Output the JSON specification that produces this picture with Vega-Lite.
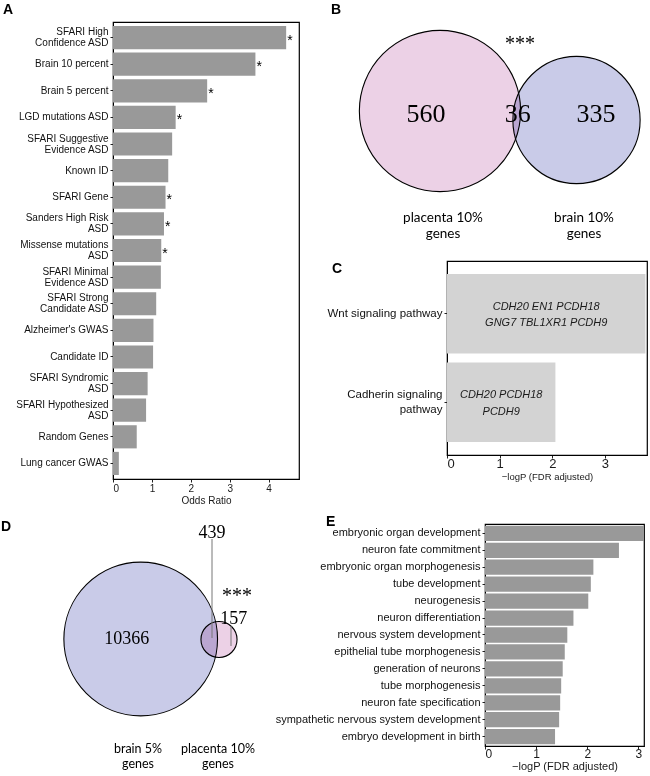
{
  "$schema": "https://vega.github.io/schema/vega-lite/v6.json",
  "padding": {"left": 1, "top": 2, "right": 0, "bottom": 0},
  "background": "white",
  "config": {
    "font": "Liberation Sans",
    "view": {"stroke": "black", "strokeWidth": 1.2},
    "axis": {"grid": false, "domainColor": "black", "tickColor": "#222222", "labelColor": "#1a1a1a", "titleColor": "#1a1a1a", "titleFontWeight": "normal", "tickSize": 3, "labelFont": "Liberation Sans", "titleFont": "Liberation Sans"},
    "title": {"font": "Liberation Sans", "fontWeight": "bold", "fontSize": 14, "anchor": "start", "frame": "group", "color": "black", "offset": 0}
  },
  "bounds": "flush",
  "spacing": 502,
  "resolve": {"scale": {"color": "independent", "size": "independent"}},
  "vconcat": [
    {
      "bounds": "flush",
      "spacing": 148,
      "resolve": {"scale": {"color": "independent", "size": "independent"}},
      "hconcat": [
        {
          "title": {"text": "A", "dx": -110, "dy": -1},
          "width": 186,
          "height": 457,
          "data": {"values": [
            {"gene_set": "SFARI High\nConfidence ASD", "odds_ratio": 4.45, "star": "*"},
            {"gene_set": "Brain 10 percent", "odds_ratio": 3.66, "star": "*"},
            {"gene_set": "Brain 5 percent", "odds_ratio": 2.42, "star": "*"},
            {"gene_set": "LGD mutations ASD", "odds_ratio": 1.61, "star": "*"},
            {"gene_set": "SFARI Suggestive\nEvidence ASD", "odds_ratio": 1.52, "star": ""},
            {"gene_set": "Known ID", "odds_ratio": 1.42, "star": ""},
            {"gene_set": "SFARI Gene", "odds_ratio": 1.35, "star": "*"},
            {"gene_set": "Sanders High Risk\nASD", "odds_ratio": 1.31, "star": "*"},
            {"gene_set": "Missense mutations\nASD", "odds_ratio": 1.24, "star": "*"},
            {"gene_set": "SFARI Minimal\nEvidence ASD", "odds_ratio": 1.23, "star": ""},
            {"gene_set": "SFARI Strong\nCandidate ASD", "odds_ratio": 1.11, "star": ""},
            {"gene_set": "Alzheimer's GWAS", "odds_ratio": 1.04, "star": ""},
            {"gene_set": "Candidate ID", "odds_ratio": 1.03, "star": ""},
            {"gene_set": "SFARI Syndromic\nASD", "odds_ratio": 0.89, "star": ""},
            {"gene_set": "SFARI Hypothesized\nASD", "odds_ratio": 0.85, "star": ""},
            {"gene_set": "Random Genes", "odds_ratio": 0.61, "star": ""},
            {"gene_set": "Lung cancer GWAS", "odds_ratio": 0.15, "star": ""}
          ]},
          "encoding": {
            "y": {"field": "gene_set", "type": "nominal", "sort": null,
                  "scale": {"paddingInner": 0.13, "paddingOuter": 0.15},
                  "axis": {"title": null, "labelFontSize": 10, "labelLineHeight": 11, "labelPadding": 2, "labelColor": "#111111",
                           "labelOffset": {"condition": {"test": "indexof(datum.value, '\\n') >= 0", "value": -5.5}, "value": 0},
                           "labelExpr": "split(datum.label, '\\n')"}},
            "x": {"field": "odds_ratio", "type": "quantitative",
                  "scale": {"domain": [0, 4.78], "nice": false},
                  "axis": {"title": "Odds Ratio", "values": [0, 1, 2, 3, 4], "labelFontSize": 10, "titleFontSize": 10, "labelPadding": 1, "titlePadding": 2}}
          },
          "layer": [
            {"mark": {"type": "bar", "color": "#999999"}},
            {"mark": {"type": "text", "align": "left", "baseline": "middle", "dx": 1, "dy": 3, "fontSize": 14, "color": "black"},
             "encoding": {"text": {"field": "star"}}}
          ]
        },
        {
          "bounds": "flush",
          "spacing": 14,
          "resolve": {"scale": {"color": "independent", "size": "independent"}},
          "vconcat": [
            {
              "title": {"text": "B", "dx": -116, "dy": -1},
              "width": 200,
              "height": 225,
              "view": {"stroke": null},
              "encoding": {
                "x": {"field": "x", "type": "quantitative", "scale": {"domain": [7, 207], "nice": false, "zero": false}, "axis": null},
                "y": {"field": "y", "type": "quantitative", "scale": {"domain": [-136, 89], "nice": false, "zero": false}, "axis": null}
              },
              "layer": [
                {
                  "data": {"values": [
                    {"set": "placenta 10% genes", "count": 596, "x": 0, "y": 0},
                    {"set": "brain 10% genes", "count": 371, "x": 136.5, "y": -9}
                  ]},
                  "mark": {"type": "point", "shape": "circle", "filled": true, "opacity": 1, "stroke": "black", "strokeWidth": 1.1, "blend": "multiply"},
                  "encoding": {
                    "size": {"field": "count", "type": "quantitative", "scale": {"domain": [0, 596], "range": [0, 26016]}, "legend": null},
                    "color": {"field": "set", "type": "nominal", "scale": {"domain": ["placenta 10% genes", "brain 10% genes"], "range": ["#ecd1e6", "#c9cbe8"]}, "legend": null}
                  }
                },
                {
                  "data": {"values": [
                    {"label": "560", "x": -14, "y": -3.3},
                    {"label": "36", "x": 77.7, "y": -3.3},
                    {"label": "335", "x": 156, "y": -3.3}
                  ]},
                  "mark": {"type": "text", "font": "Liberation Serif", "fontSize": 26, "color": "black", "baseline": "middle"},
                  "encoding": {"text": {"field": "label"}}
                },
                {
                  "data": {"values": [{"label": "***", "x": 80, "y": 67}]},
                  "mark": {"type": "text", "font": "Liberation Serif", "fontSize": 20, "color": "black", "baseline": "middle"},
                  "encoding": {"text": {"field": "label"}}
                },
                {
                  "data": {"values": [
                    {"label": "placenta 10%\ngenes", "x": 3, "y": -106.7},
                    {"label": "brain 10%\ngenes", "x": 144, "y": -106.7}
                  ]},
                  "mark": {"type": "text", "font": "Lato", "fontSize": 13.5, "color": "black", "baseline": "middle", "lineBreak": "\n", "lineHeight": 16.6},
                  "encoding": {"text": {"field": "label"}}
                }
              ]
            },
            {
              "title": {"text": "C", "dx": -115, "dy": 19},
              "width": 200,
              "height": 194,
              "data": {"values": [
                {"pathway": "Wnt signaling pathway", "logp": 3.77, "genes": "CDH20 EN1 PCDH18\nGNG7 TBL1XR1 PCDH9"},
                {"pathway": "Cadherin signaling\npathway", "logp": 2.06, "genes": "CDH20 PCDH18\nPCDH9"}
              ]},
              "encoding": {
                "y": {"field": "pathway", "type": "nominal", "sort": null,
                      "scale": {"paddingInner": 0.1, "paddingOuter": 0.147},
                      "axis": {"title": null, "labelFontSize": 11.5, "labelLineHeight": 14.7, "labelPadding": 2, "labelColor": "#111111",
                               "labelOffset": {"condition": {"test": "indexof(datum.value, '\\n') >= 0", "value": -7.3}, "value": 0},
                               "labelExpr": "split(datum.label, '\\n')"}}
              },
              "layer": [
                {
                  "mark": {"type": "bar", "color": "#d3d3d3"},
                  "encoding": {"x": {"field": "logp", "type": "quantitative", "scale": {"domain": [0, 3.8], "nice": false},
                    "axis": {"title": "−logP (FDR adjusted)", "values": [0, 1, 2, 3], "labelFontSize": 13, "titleFontSize": 9.5, "labelPadding": -1, "titlePadding": 1}}}
                },
                {
                  "mark": {"type": "text", "fontStyle": "italic", "fontSize": 11, "color": "#1a1a1a", "baseline": "middle", "dy": -7, "lineBreak": "\n", "lineHeight": 16.5},
                  "encoding": {
                    "x": {"field": "logp", "type": "quantitative", "scale": {"domain": [0, 7.6], "nice": false}, "axis": null},
                    "text": {"field": "genes"}
                  }
                }
              ],
              "resolve": {"scale": {"x": "independent"}, "axis": {"x": "independent"}}
            }
          ]
        }
      ]
    },
    {
      "bounds": "flush",
      "spacing": 222,
      "resolve": {"scale": {"color": "independent", "size": "independent"}},
      "hconcat": [
        {
          "title": {"text": "D", "dx": -112, "dy": 14},
          "width": 150,
          "height": 222,
          "view": {"stroke": null},
          "encoding": {
            "x": {"field": "x", "type": "quantitative", "scale": {"domain": [-27.7, 122.3], "nice": false, "zero": false}, "axis": null},
            "y": {"field": "y", "type": "quantitative", "scale": {"domain": [-107, 115], "nice": false, "zero": false}, "axis": null}
          },
          "layer": [
            {
              "data": {"values": [
                {"set": "brain 5% genes", "count": 10805, "x": 0, "y": 0},
                {"set": "placenta 10% genes", "count": 596, "x": 78.3, "y": -0.5}
              ]},
              "mark": {"type": "point", "shape": "circle", "filled": true, "opacity": 1, "stroke": "black", "strokeWidth": 1.1, "blend": "multiply"},
              "encoding": {
                "size": {"field": "count", "type": "quantitative", "scale": {"domain": [0, 10805], "range": [0, 23615]}, "legend": null},
                "color": {"field": "set", "type": "nominal", "scale": {"domain": ["placenta 10% genes", "brain 5% genes"], "range": ["#ecd1e6", "#c9cbe8"]}, "legend": null}
              }
            },
            {
              "data": {"values": [
                {"x": 71.3, "y": 100, "y2": 1},
                {"x": 90.3, "y": 13, "y2": -7}
              ]},
              "mark": {"type": "rule", "color": "#777777", "strokeWidth": 1},
              "encoding": {"y2": {"field": "y2"}}
            },
            {
              "data": {"values": [
                {"label": "10366", "x": -14, "y": 0},
                {"label": "439", "x": 71.3, "y": 106.3},
                {"label": "157", "x": 93.1, "y": 19.7}
              ]},
              "mark": {"type": "text", "font": "Liberation Serif", "fontSize": 18, "color": "black", "baseline": "middle"},
              "encoding": {"text": {"field": "label"}}
            },
            {
              "data": {"values": [{"label": "***", "x": 96.3, "y": 43}]},
              "mark": {"type": "text", "font": "Liberation Serif", "fontSize": 20, "color": "black", "baseline": "middle"},
              "encoding": {"text": {"field": "label"}}
            },
            {
              "data": {"values": [
                {"label": "brain 5%\ngenes", "x": -2.7, "y": -110.3},
                {"label": "placenta 10%\ngenes", "x": 77.3, "y": -110.3}
              ]},
              "mark": {"type": "text", "font": "Lato", "fontSize": 12.5, "color": "black", "baseline": "middle", "lineBreak": "\n", "lineHeight": 15},
              "encoding": {"text": {"field": "label"}}
            }
          ]
        },
        {
          "title": {"text": "E", "dx": -159, "dy": 9},
          "width": 159,
          "height": 222,
          "data": {"values": [
            {"term": "embryonic organ development", "logp": 3.11},
            {"term": "neuron fate commitment", "logp": 2.62},
            {"term": "embryonic organ morphogenesis", "logp": 2.12},
            {"term": "tube development", "logp": 2.07},
            {"term": "neurogenesis", "logp": 2.02},
            {"term": "neuron differentiation", "logp": 1.73},
            {"term": "nervous system development", "logp": 1.61},
            {"term": "epithelial tube morphogenesis", "logp": 1.56},
            {"term": "generation of neurons", "logp": 1.52},
            {"term": "tube morphogenesis", "logp": 1.49},
            {"term": "neuron fate specification", "logp": 1.47},
            {"term": "sympathetic nervous system development", "logp": 1.45},
            {"term": "embryo development in birth", "logp": 1.37}
          ]},
          "mark": {"type": "bar", "color": "#999999"},
          "encoding": {
            "y": {"field": "term", "type": "nominal", "sort": null,
                  "scale": {"paddingInner": 0.1, "paddingOuter": 0.1},
                  "axis": {"title": null, "labelFontSize": 11, "labelPadding": 2, "labelLimit": 0, "labelColor": "#111111"}},
            "x": {"field": "logp", "type": "quantitative", "scale": {"domain": [0, 3.11], "nice": false},
                  "axis": {"title": "−logP (FDR adjusted)", "values": [0, 1, 2, 3], "labelFontSize": 12, "titleFontSize": 11, "labelPadding": -1, "titlePadding": 1}}
          }
        }
      ]
    }
  ]
}
